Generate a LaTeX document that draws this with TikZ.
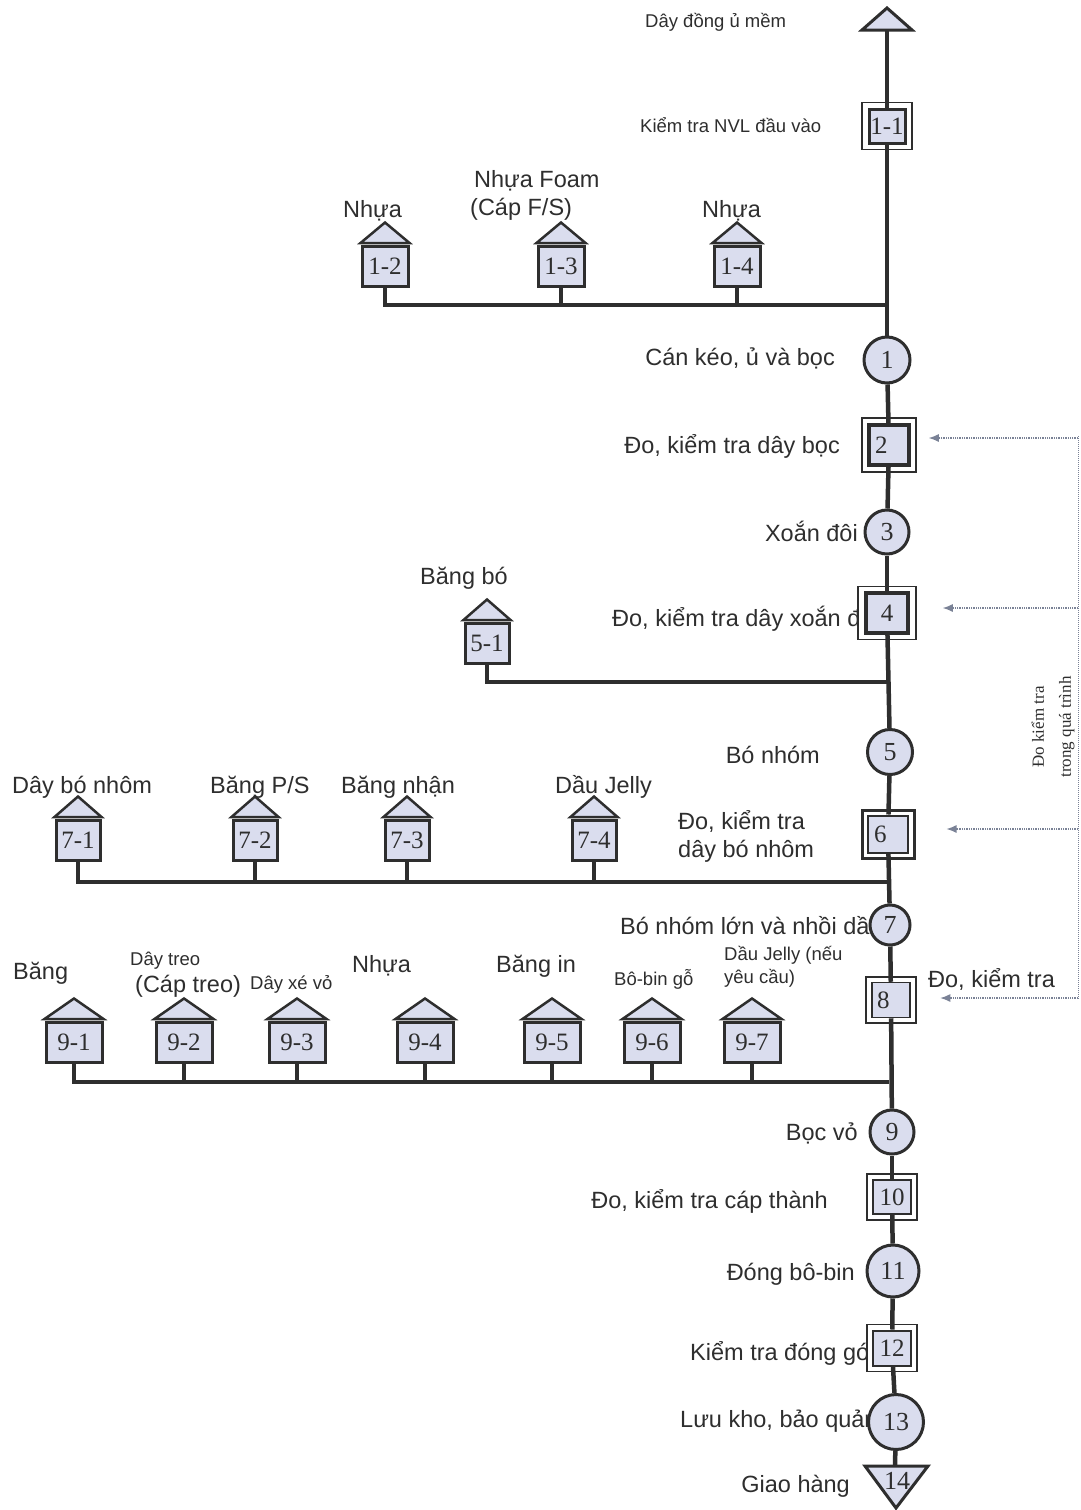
\documentclass[tikz,border=0pt]{standalone}
\usepackage{fontspec}
\setmainfont{Liberation Sans}
\newfontfamily\numfont{Liberation Serif}
\usetikzlibrary{arrows.meta}
\definecolor{ink}{HTML}{2E2E2E}
\definecolor{shade}{HTML}{DADDEE}
\definecolor{dotc}{HTML}{7A8296}
\newcommand\matu[5]{%
  \node[matbox, minimum width=#4pt] (#1) at (#2,#3) {#5};
  \filldraw[mattri] ([yshift=1.5pt]#1.north west) -- ([yshift=22pt]#1.north) -- ([yshift=1.5pt]#1.north east) -- cycle;
}
\newcommand\lnum[2]{\makebox[#1pt][l]{#2}}
\begin{document}
\begin{tikzpicture}[x=1pt,y=-1pt,
  lbl/.style={font=\fontsize{23.5}{28}\selectfont, text=ink, inner sep=0pt},
  slbl/.style={font=\fontsize{18.5}{23}\selectfont, text=ink, inner sep=0pt},
  flow/.style={draw=ink, line width=4.5pt},
  branch/.style={draw=ink, line width=3.5pt},
  opc/.style={circle, draw=ink, fill=shade, line width=3pt, inner sep=0pt, font=\numfont\fontsize{26}{26}\selectfont, text=ink},
  outerbox/.style={draw=ink, fill=white, line width=1.5pt, inner sep=0pt},
  insp/.style={draw=ink, fill=shade, line width=3.5pt, inner sep=0pt, font=\numfont\fontsize{25}{25}\selectfont, text=ink},
  matbox/.style={draw=ink, fill=shade, line width=3pt, inner sep=0pt, minimum height=40pt, font=\numfont\fontsize{25}{25}\selectfont, text=ink},
  mattri/.style={draw=ink, fill=shade, line width=2.5pt, line join=miter},
  tri/.style={draw=ink, fill=shade, line width=3pt, line join=miter},
  chk/.style={draw=dotc, densely dotted, line width=1.3pt, -{Latex[length=10pt,width=8pt]}},
]
\useasboundingbox[fill=white] (0,0) rectangle (1080,1510);

% ---------- labels (drawn first so shapes can cover them) ----------
\node[slbl, anchor=west] (l0) at (645,22) {Dây đồng ủ mềm};
\node[slbl, anchor=west] (l11) at (640,125) {Kiểm tra NVL đầu vào};
\node[lbl, anchor=west] (l12) at (343,211) {Nhựa};
\node[lbl, anchor=west, align=left] (l13) at (470,195) {\,Nhựa Foam\\(Cáp F/S)};
\node[lbl, anchor=west] (l14) at (702,211) {Nhựa};
\node[lbl, anchor=east] (l1) at (835,358) {Cán kéo, ủ và bọc};
\node[lbl, anchor=east] (l2) at (840,446) {Đo, kiểm tra dây bọc};
\node[lbl, anchor=east] (l3) at (858,531) {Xoắn đôi};
\node[lbl, anchor=west] (l51) at (420,578) {Băng bó};
\node[lbl, anchor=west] (l4) at (612,619) {Đo, kiểm tra dây xoắn đôi};
\node[lbl, anchor=east] (l5) at (820,755) {Bó nhóm};
\node[lbl, anchor=west, align=left] (l6) at (678,836) {Đo, kiểm tra\\dây bó nhôm};
\node[lbl, anchor=west] (l71) at (12,787) {Dây bó nhôm};
\node[lbl, anchor=west] (l72) at (210,787) {Băng P/S};
\node[lbl, anchor=west] (l73) at (341,787) {Băng nhận};
\node[lbl, anchor=west] (l74) at (555,787) {Dầu Jelly};
\node[lbl, anchor=west] (l7) at (620,926) {Bó nhóm lớn và nhồi dầu};
\node[lbl, anchor=west] (l8) at (928,980) {Đo, kiểm tra};
\node[lbl, anchor=west] (l91) at (13,973) {Băng};
\node[slbl, anchor=west] (l92a) at (130,961) {Dây treo};
\node[lbl, anchor=west] (l92b) at (135,986) {(Cáp treo)};
\node[slbl, anchor=west] (l93) at (250,984) {Dây xé vỏ};
\node[lbl, anchor=west] (l94) at (352,966) {Nhựa};
\node[lbl, anchor=west] (l95) at (496,966) {Băng in};
\node[slbl, anchor=west] (l96) at (614,979) {Bô-bin gỗ};
\node[slbl, anchor=west, align=left] (l97) at (724,967) {Dầu Jelly (nếu\\yêu cầu)};
\node[lbl, anchor=east] (l9) at (858,1133) {Bọc vỏ};
\node[lbl, anchor=east] (l10) at (828,1201) {Đo, kiểm tra cáp thành};
\node[lbl, anchor=east] (l11b) at (855,1274) {Đóng bô-bin};
\node[lbl, anchor=west] (l12b) at (690,1353) {Kiểm tra đóng gói};
\node[lbl, anchor=west] (l13b) at (680,1421) {Lưu kho, bảo quản};
\node[lbl, anchor=east] (l14b) at (850,1486) {Giao hàng};
\node[font=\numfont\fontsize{17}{27}\selectfont, text=ink, rotate=90, align=center, inner sep=0pt] (side) at (1053,727) {Đo kiểm tra\\trong quá trình};

% ---------- main flow shapes ----------
\filldraw[tri] (862,30) -- (887,8) -- (912,30) -- cycle;
\coordinate (tin) at (887,30);

\node[outerbox, minimum width=50pt, minimum height=47pt] (b11o) at (887,126) {};
\node[insp, line width=3pt, minimum width=36pt, minimum height=34pt] (b11) at (887,126) {1-1};

\node[opc, minimum size=46pt] (c1) at (887,360) {1};

\node[outerbox, minimum width=54pt, minimum height=54pt] (b2o) at (889,445) {};
\node[insp, line width=4pt, minimum width=40pt, minimum height=40pt] (b2) at (889,445) {\lnum{28}{2}};

\node[opc, minimum size=44pt] (c3) at (887,532) {3};

\node[outerbox, minimum width=58pt, minimum height=53pt] (b4o) at (887,613) {};
\node[insp, line width=4pt, minimum width=42pt, minimum height=40pt] (b4) at (887,613) {4};

\node[opc, minimum size=45pt] (c5) at (890,752) {5};

\node[outerbox, line width=3pt, minimum width=52pt, minimum height=48pt] (b6o) at (888,834) {};
\node[insp, line width=2pt, minimum width=40pt, minimum height=37pt] (b6) at (888,834) {\lnum{28}{6}};

\node[opc, minimum size=40pt] (c7) at (890,925) {7};

\node[outerbox, line width=2.5pt, minimum width=50pt, minimum height=46pt] (b8o) at (891,1000) {};
\node[insp, line width=1.5pt, minimum width=38pt, minimum height=35pt] (b8) at (891,1000) {\lnum{28}{8}};

\node[opc, minimum size=44pt] (c9) at (892,1132) {9};

\node[outerbox, minimum width=50pt, minimum height=46pt] (b10o) at (892,1197) {};
\node[insp, line width=2pt, minimum width=38pt, minimum height=34pt] (b10) at (892,1197) {10};

\node[opc, minimum size=52pt] (c11) at (893,1271) {11};

\node[outerbox, minimum width=50pt, minimum height=47pt] (b12o) at (892,1348) {};
\node[insp, line width=2pt, minimum width=38pt, minimum height=35pt] (b12) at (892,1348) {12};

\node[opc, minimum size=55pt] (c13) at (896,1422) {13};

\filldraw[tri] (865,1466) -- (928,1466) -- (896,1508) -- cycle;
\coordinate (tout) at (895,1466);
\node[font=\numfont\fontsize{26}{26}\selectfont, text=ink, inner sep=0pt] (n14) at (897,1481) {14};

% ---------- main flow line ----------
\draw[flow] (tin) -- (b11);
\draw[flow] (b11) -- (c1);
\draw[flow] (c1) -- (b2);
\draw[flow] (b2) -- (c3);
\draw[flow] (c3) -- (b4);
\draw[flow] (b4) -- (c5);
\draw[flow] (c5) -- (b6);
\draw[flow] (b6) -- (c7);
\draw[flow] (c7) -- (b8);
\draw[flow] (b8) -- (c9);
\draw[flow] (c9) -- (b10);
\draw[flow] (b10) -- (c11);
\draw[flow] (c11) -- (b12);
\draw[flow] (b12) -- (c13);
\draw[flow] (c13) -- (tout);

% ---------- material inputs ----------
\coordinate (j1) at (887,305);
\matu{m12}{385}{266}{46}{1-2}
\matu{m13}{561}{266}{46}{1-3}
\matu{m14}{737}{266}{46}{1-4}
\draw[branch] (j1) -| (m12.south);
\draw[branch] (m13.south) -- (m13.south |- j1);
\draw[branch] (m14.south) -- (m14.south |- j1);

\coordinate (j2) at (887,682);
\matu{m51}{487}{643}{44}{5-1}
\draw[branch] (j2) -| (m51.south);

\coordinate (j3) at (888,882);
\matu{m71}{78}{840}{44}{7-1}
\matu{m72}{255}{840}{44}{7-2}
\matu{m73}{407}{840}{44}{7-3}
\matu{m74}{594}{840}{44}{7-4}
\draw[branch] (j3) -| (m71.south);
\draw[branch] (m72.south) -- (m72.south |- j3);
\draw[branch] (m73.south) -- (m73.south |- j3);
\draw[branch] (m74.south) -- (m74.south |- j3);

\coordinate (j4) at (889,1082);
\matu{m91}{74}{1042}{56}{9-1}
\matu{m92}{184}{1042}{56}{9-2}
\matu{m93}{297}{1042}{56}{9-3}
\matu{m94}{425}{1042}{56}{9-4}
\matu{m95}{552}{1042}{56}{9-5}
\matu{m96}{652}{1042}{56}{9-6}
\matu{m97}{752}{1042}{56}{9-7}
\draw[branch] (j4) -| (m91.south);
\foreach \m in {m92,m93,m94,m95,m96,m97}
  \draw[branch] (\m.south) -- (\m.south |- j4);

% ---------- in-process checks ----------
\coordinate (rtop) at (1078,436);
\coordinate (rbot) at (1078,1000);
\draw[dotc, densely dotted, line width=1pt] (rtop) -- (rbot);
\coordinate (r2) at (1078,438);
\coordinate (r4) at (1078,608);
\coordinate (r6) at (1078,829);
\coordinate (r8) at (1078,998);
\coordinate (a2) at ([xshift=12pt]b2o.east);
\coordinate (a4) at ([xshift=26pt]b4o.east);
\coordinate (a6) at ([xshift=31pt]b6o.east);
\coordinate (a8) at ([xshift=23pt]b8o.east);
\draw[chk] (r2) -- (a2 |- r2);
\draw[chk] (r4) -- (a4 |- r4);
\draw[chk] (r6) -- (a6 |- r6);
\draw[chk] (r8) -- (a8 |- r8);
\end{tikzpicture}
\end{document}
